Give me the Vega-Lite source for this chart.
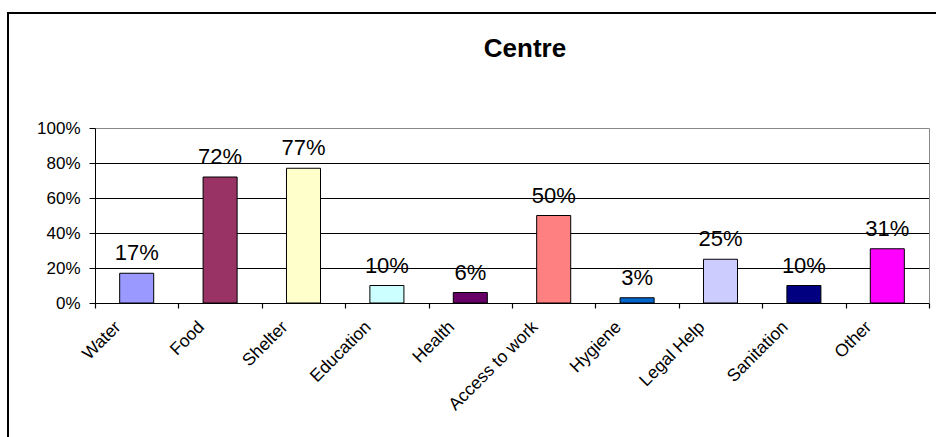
{
  "$schema": "https://vega.github.io/schema/vega-lite/v6.json",
  "autosize": "none",
  "width": 930,
  "height": 426,
  "padding": {"left": 8, "top": 13, "right": -2, "bottom": -2},
  "background": "white",
  "title": {
    "text": "Centre",
    "font": "Liberation Sans",
    "fontSize": 26,
    "fontWeight": "bold",
    "color": "black",
    "anchor": "middle",
    "frame": "group",
    "baseline": "alphabetic",
    "offset": -70,
    "dx": 52
  },
  "config": {
    "view": {"stroke": "black", "strokeWidth": 2},
    "axis": {"labelFont": "Liberation Sans", "labelColor": "black", "titleFont": "Liberation Sans"}
  },
  "data": {
    "values": [
      {"need": "Water", "share": 0.17},
      {"need": "Food", "share": 0.72},
      {"need": "Shelter", "share": 0.77},
      {"need": "Education", "share": 0.10},
      {"need": "Health", "share": 0.06},
      {"need": "Access to work", "share": 0.50},
      {"need": "Hygiene", "share": 0.03},
      {"need": "Legal Help", "share": 0.25},
      {"need": "Sanitation", "share": 0.10},
      {"need": "Other", "share": 0.31}
    ]
  },
  "layer": [
    {
      "mark": {"type": "bar", "stroke": "black", "strokeWidth": 1, "width": {"band": 0.408}},
      "encoding": {
        "x": {
          "field": "need",
          "type": "nominal",
          "sort": null,
          "scale": {"range": [87, 921], "paddingInner": 0, "paddingOuter": 0},
          "axis": {
            "orient": "bottom",
            "offset": -136,
            "title": null,
            "ticks": true,
            "tickBand": "extent",
            "tickSize": 5,
            "tickColor": "black",
            "tickWidth": 1.2,
            "tickOpacity": 1,
            "domain": true,
            "domainColor": "black",
            "grid": false,
            "labelAngle": -45,
            "labelAlign": "right",
            "labelBaseline": "middle",
            "labelOffset": -19,
            "labelPadding": 16,
            "labelFontSize": 17.5
          }
        },
        "y": {
          "field": "share",
          "type": "quantitative",
          "scale": {"domain": [0, 1], "range": [290, 115], "nice": false, "zero": true},
          "axis": {
            "orient": "left",
            "offset": -87,
            "title": null,
            "values": [0, 0.2, 0.4, 0.6, 0.8, 1],
            "format": ".0%",
            "labelFontSize": 17,
            "labelPadding": 9,
            "tickSize": 6,
            "tickColor": "black",
            "domainColor": "black",
            "grid": true,
            "gridColor": {"condition": {"test": "datum.value === 1", "value": "#888888"}, "value": "black"},
            "gridOpacity": 1
          }
        },
        "color": {
          "field": "need",
          "type": "nominal",
          "legend": null,
          "scale": {
            "domain": ["Water", "Food", "Shelter", "Education", "Health", "Access to work", "Hygiene", "Legal Help", "Sanitation", "Other"],
            "range": ["#9999FF", "#993366", "#FFFFCC", "#CCFFFF", "#660066", "#FF8080", "#0066CC", "#CCCCFF", "#000080", "#FF00FF"]
          }
        }
      }
    },
    {
      "mark": {"type": "text", "font": "Liberation Sans", "fontSize": 22, "color": "black", "baseline": "alphabetic", "dy": -13},
      "encoding": {
        "x": {
          "field": "need",
          "type": "nominal",
          "sort": null,
          "axis": null
        },
        "y": {
          "field": "share",
          "type": "quantitative",
          "axis": {
            "orient": "right",
            "offset": -9,
            "title": null,
            "labels": false,
            "ticks": false,
            "grid": false,
            "domain": true,
            "domainColor": "#888888"
          }
        },
        "text": {"field": "share", "type": "quantitative", "format": ".0%"}
      }
    }
  ],
  "resolve": {"axis": {"x": "independent", "y": "independent"}}
}
